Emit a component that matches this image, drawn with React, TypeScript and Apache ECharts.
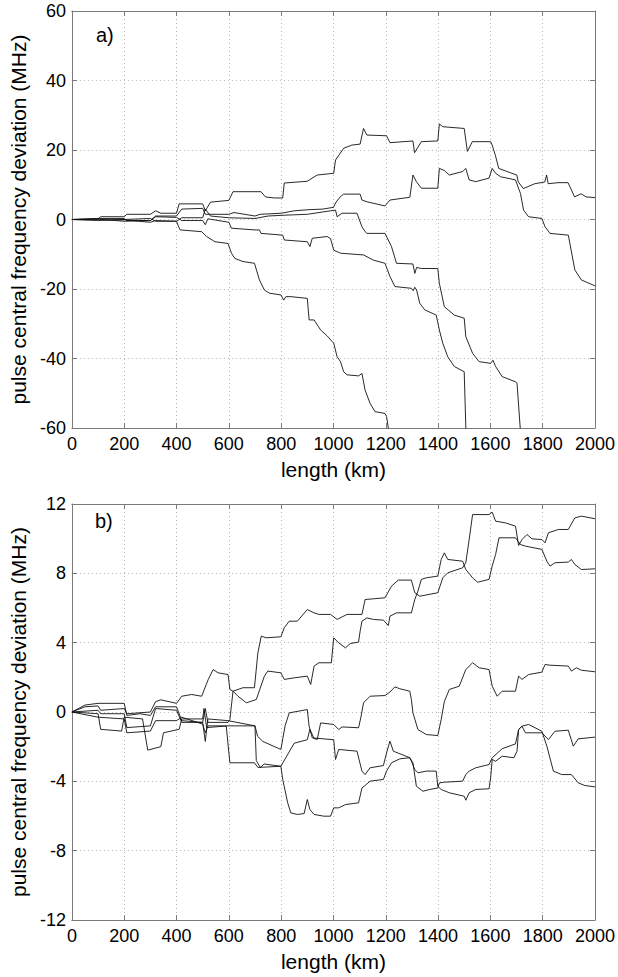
import React, { useEffect, useRef } from "react";
import * as echarts from "echarts";

const FONT = "'Liberation Sans', Arial, Helvetica, sans-serif";

// x ticks (km) and y ticks
const xMin = 0, xMax = 2000, xStep = 200;
const topYMin = -60, topYMax = 60, topYStep = 20;
const botYMin = -12, botYMax = 12, botYStep = 4;

const yTitle = "pulse central frequency deviation (MHz)";
const xTitle = "length (km)";
const panelLabels = ["a)", "b)"];

// ---- panel a) ----
const topA: number[][] = [[0,0],[100,0.2],[110,0.8],[200,0.8],[210,1.5],[300,1.5],[320,2.5],[340,1.8],[400,1.8],[410,4.5],[500,4.5],[510,2.5],[530,5],[600,5.5],[616,8],[723,8],[740,6.5],[774,6.2],[806,6.2],[812,10.5],[900,11],[938,12.8],[1001,13.3],[1008,17.1],[1039,20.5],[1070,21.4],[1102,21.7],[1115,26.2],[1128,24.3],[1203,24.1],[1216,22.1],[1304,22.6],[1310,19.2],[1336,22.4],[1399,22.6],[1405,27.5],[1418,26.7],[1500,26.2],[1512,19.6],[1531,22.4],[1601,22.4],[1607,21.4],[1619,18.5],[1632,14.7],[1682,13.3],[1701,12.8],[1707,10.8],[1726,8.9],[1770,10.3],[1808,10.8],[1815,12.8],[1821,10.3],[1859,10.6],[1897,10.6],[1922,6.5],[1947,7.4],[1966,6.5],[2000,6.3]];
const topB: number[][] = [[0,0],[100,0.3],[200,0.3],[210,-0.3],[300,-0.3],[320,1.0],[400,1.0],[420,3.0],[500,3.2],[510,1.5],[600,1.5],[620,2.0],[700,1.0],[720,1.5],[800,1.8],[850,2.5],[900,2.8],[960,3.0],[1000,3.5],[1010,5.0],[1027,6.6],[1039,7.3],[1102,7.3],[1109,5.6],[1128,5.1],[1197,3.9],[1216,5.6],[1292,6.4],[1304,12.8],[1317,10.9],[1336,9.0],[1399,9.0],[1405,14.7],[1424,14.1],[1443,12.8],[1494,13.8],[1506,14.7],[1519,11.4],[1544,10.9],[1595,11.9],[1607,14.7],[1620,13.3],[1639,12.3],[1696,11.4],[1715,7.5],[1727,2.7],[1746,0.8],[1797,0.3],[1809,-2.1],[1828,-4.0],[1898,-4.5],[1904,-6.9],[1923,-14.5],[1948,-17.4],[2000,-19.1]];
const topC: number[][] = [[0,0],[100,-0.2],[200,0.0],[300,0.3],[320,-0.5],[400,-0.5],[420,0.5],[500,0.5],[510,3.0],[530,1.0],[600,0.5],[700,0.3],[750,1.0],[800,1.2],[900,1.5],[989,2.5],[1008,2.7],[1014,0.8],[1033,1.8],[1090,1.8],[1109,-2.1],[1121,-3.5],[1128,-4.0],[1197,-4.0],[1222,-7.8],[1241,-12.6],[1304,-12.8],[1311,-15.5],[1318,-13.8],[1336,-14.1],[1399,-14.1],[1405,-18.4],[1424,-25.1],[1462,-27.5],[1500,-28.4],[1506,-33.7],[1532,-38.5],[1557,-40.9],[1601,-41.4],[1610,-40.5],[1620,-42.3],[1645,-45.2],[1696,-46.7],[1702,-47.1],[1716,-62]];
const topD: number[][] = [[0,0],[100,0.1],[200,-0.5],[300,-0.3],[320,0.8],[400,0.6],[420,-0.3],[500,-0.3],[510,-1.5],[520,0.2],[600,-0.8],[610,-2.5],[700,-3.0],[717,-3.0],[723,-4.0],[806,-4.5],[812,-5.9],[900,-6.4],[910,-7.8],[919,-5.4],[976,-4.9],[989,-5.5],[1001,-8.8],[1027,-9.7],[1115,-10.2],[1153,-11.7],[1197,-12.6],[1216,-16.4],[1235,-19.3],[1298,-19.8],[1305,-20.5],[1311,-19.5],[1318,-20.3],[1330,-24.1],[1349,-26.0],[1393,-27.5],[1405,-31.8],[1418,-35.6],[1437,-39.5],[1462,-42.3],[1500,-43.8],[1507,-62]];
const topE: number[][] = [[0,0],[100,-0.2],[200,-0.1],[300,-0.8],[320,-0.3],[400,-0.5],[408,-2.1],[414,-3.0],[496,-3.5],[515,-4.9],[547,-6.4],[597,-6.9],[610,-9.7],[623,-11.2],[654,-12.1],[698,-12.6],[717,-17.4],[736,-20.3],[755,-21.2],[799,-21.7],[810,-23.2],[818,-22.2],[837,-22.2],[900,-22.7],[907,-28.9],[926,-28.9],[951,-31.8],[976,-33.5],[1001,-35.6],[1014,-39.5],[1027,-40.9],[1039,-43.8],[1052,-44.7],[1096,-45.0],[1109,-44.3],[1121,-49.1],[1140,-52.9],[1159,-55.3],[1197,-55.8],[1203,-56.7],[1214,-62]];

// ---- panel b) ----
const botP: number[][] = [[0,0],[50,0.3],[100,0.35],[110,0.1],[200,0.2],[210,-0.1],[300,0.0],[320,0.6],[340,0.7],[400,0.5],[420,0.91],[458,1.01],[496,0.91],[521,1.87],[540,2.45],[559,2.26],[597,2.16],[604,1.3],[616,1.2],[654,1.4],[698,1.4],[711,3.41],[724,4.38],[742,4.28],[799,4.34],[812,4.86],[831,5.24],[862,5.24],[900,5.91],[926,5.72],[944,5.63],[989,5.63],[1014,5.34],[1052,5.63],[1109,5.63],[1121,6.49],[1153,6.53],[1197,6.59],[1222,7.26],[1248,7.61],[1298,7.61],[1311,6.88],[1330,6.68],[1399,6.88],[1418,7.74],[1437,8.03],[1494,8.32],[1506,8.61],[1519,9.95],[1532,11.39],[1595,11.39],[1607,11.53],[1620,11.01],[1658,10.91],[1696,10.72],[1708,9.61],[1721,9.95],[1740,10.24],[1759,9.99],[1797,9.95],[1809,9.76],[1822,10.34],[1860,10.53],[1898,10.53],[1923,11.2],[1948,11.3],[2000,11.15]];
const botQ: number[][] = [[0,0],[50,0.4],[100,0.5],[200,0.5],[210,-0.2],[260,-0.1],[300,-0.2],[320,0.3],[400,0.3],[420,-0.5],[500,-0.6],[510,0.2],[520,-0.6],[597,-0.6],[604,-0.43],[616,1.2],[635,0.91],[667,0.53],[705,0.72],[736,2.07],[749,2.36],[799,2.26],[812,1.88],[850,1.97],[900,2.07],[913,1.59],[926,2.65],[944,2.84],[992,2.84],[1001,4.28],[1020,3.99],[1046,3.70],[1064,3.95],[1096,4.03],[1102,4.66],[1109,5.24],[1128,5.43],[1153,5.34],[1191,5.30],[1210,4.99],[1216,5.53],[1241,5.72],[1298,5.72],[1311,6.49],[1323,6.97],[1336,7.65],[1355,7.74],[1399,7.84],[1412,8.80],[1424,9.18],[1437,8.80],[1494,8.70],[1506,8.22],[1532,7.74],[1551,7.49],[1595,7.65],[1607,8.42],[1620,9.09],[1633,10.05],[1696,10.05],[1715,9.66],[1734,9.57],[1797,9.38],[1816,8.70],[1828,8.42],[1847,8.61],[1898,8.65],[1910,8.80],[1923,8.51],[1948,8.22],[2000,8.26]];
const botR: number[][] = [[0,0],[100,0.1],[110,-0.1],[200,-0.1],[210,-0.9],[300,-0.8],[320,0.2],[400,0.1],[420,-0.6],[500,-0.6],[510,-1.7],[520,-0.4],[597,-0.5],[700,-0.8],[710,-1.4],[730,-1.7],[799,-2.16],[815,-0.8],[831,-0.05],[900,0.14],[907,-0.82],[919,-1.49],[938,-1.59],[951,-0.63],[1001,-0.72],[1020,-1.01],[1033,-0.86],[1096,-0.91],[1105,-0.3],[1115,0.53],[1140,0.91],[1197,0.95],[1216,1.15],[1235,1.45],[1254,1.34],[1292,1.2],[1298,0.72],[1304,-0.05],[1323,-1.01],[1355,-1.3],[1399,-1.36],[1412,-0.43],[1424,0.6],[1443,1.3],[1481,1.49],[1506,2.45],[1532,2.84],[1557,2.55],[1595,2.45],[1607,1.49],[1626,0.91],[1645,1.2],[1696,1.2],[1708,2.07],[1721,1.88],[1746,2.16],[1797,2.3],[1809,2.74],[1828,2.7],[1898,2.65],[1910,2.36],[1929,2.55],[1948,2.41],[2000,2.32]];
const botS: number[][] = [[0,0],[100,-0.1],[110,-1.0],[190,-1.1],[200,-0.3],[270,-0.4],[290,-2.2],[340,-2.0],[350,-1.2],[410,-1.0],[420,-0.4],[500,-0.4],[505,0.2],[515,-0.9],[597,-0.8],[700,-0.8],[705,-2.8],[720,-3.2],[735,-3.0],[799,-3.13],[850,-1.8],[900,-1.6],[910,-1.0],[925,-1.5],[1001,-1.6],[1008,-2.74],[1020,-2.16],[1090,-2.26],[1109,-3.41],[1121,-3.61],[1140,-3.22],[1191,-3.09],[1203,-2.36],[1216,-1.68],[1229,-2.26],[1292,-2.64],[1298,-2.84],[1311,-3.32],[1323,-3.51],[1355,-3.41],[1393,-3.41],[1399,-4.28],[1412,-4.47],[1443,-4.66],[1500,-4.86],[1506,-5.09],[1519,-4.66],[1544,-4.47],[1595,-4.43],[1601,-3.8],[1607,-2.74],[1620,-2.84],[1645,-2.55],[1690,-2.64],[1702,-2.26],[1708,-1.01],[1721,-0.82],[1734,-1.2],[1797,-1.2],[1822,-1.59],[1847,-1.11],[1898,-1.05],[1917,-1.97],[1936,-1.55],[2000,-1.45]];
const botT: number[][] = [[0,0],[100,-0.3],[200,-0.4],[210,-1.2],[300,-1.1],[320,-0.5],[400,-0.5],[420,-0.3],[500,-0.7],[510,-1.2],[520,-0.8],[590,-0.8],[604,-2.93],[698,-2.93],[711,-3.2],[799,-3.13],[806,-3.89],[825,-5.24],[837,-5.82],[862,-5.91],[888,-5.86],[900,-5.05],[910,-5.63],[926,-5.91],[963,-6.01],[989,-6.01],[1001,-5.53],[1020,-5.53],[1046,-5.34],[1096,-5.24],[1109,-4.38],[1121,-4.24],[1140,-3.99],[1191,-3.89],[1203,-3.41],[1222,-2.93],[1254,-2.7],[1292,-2.64],[1304,-2.93],[1317,-4.28],[1342,-4.57],[1368,-4.47],[1399,-4.38],[1405,-4.09],[1424,-4.05],[1494,-3.99],[1506,-3.61],[1519,-3.41],[1544,-3.22],[1595,-3.03],[1607,-2.64],[1645,-2.12],[1696,-1.84],[1708,-1.01],[1721,-0.82],[1746,-0.72],[1797,-1.11],[1816,-1.97],[1841,-3.41],[1873,-3.61],[1910,-3.61],[1936,-4.09],[1961,-4.24],[2000,-4.32]];

const topSeries = [topA, topB, topC, topD, topE];
const botSeries = [botP, botQ, botR, botS, botT];

const FRAME = "#7a7a7a";
const GRID = "#b4b4b4";
const plain = (v: number) => String(v);

function mkX(gridIndex: number, position: "bottom" | "top", main: boolean) {
  return {
    type: "value",
    gridIndex,
    position,
    min: xMin,
    max: xMax,
    interval: xStep,
    axisLine: { show: true, onZero: false, lineStyle: { color: FRAME, width: 1 } },
    axisTick: { show: true, inside: true, length: 5, lineStyle: { color: FRAME } },
    axisLabel: main
      ? { show: true, fontSize: 18, color: "#000", fontFamily: FONT, margin: 7, formatter: plain }
      : { show: false },
    splitLine: main
      ? { show: true, lineStyle: { type: [1, 3], color: GRID, width: 1 } }
      : { show: false },
    name: main ? xTitle : "",
    nameLocation: "middle",
    nameGap: 31,
    nameTextStyle: { fontSize: 21, color: "#000", fontFamily: FONT },
  };
}

function mkY(gridIndex: number, position: "left" | "right", main: boolean, min: number, max: number, step: number) {
  return {
    type: "value",
    gridIndex,
    position,
    min,
    max,
    interval: step,
    axisLine: { show: true, onZero: false, lineStyle: { color: FRAME, width: 1 } },
    axisTick: { show: true, inside: true, length: 5, lineStyle: { color: FRAME } },
    axisLabel: main
      ? { show: true, fontSize: 18, color: "#000", fontFamily: FONT, margin: 6, formatter: plain }
      : { show: false },
    splitLine: main
      ? { show: true, lineStyle: { type: [1, 3], color: GRID, width: 1 } }
      : { show: false },
    name: main ? yTitle : "",
    nameLocation: "middle",
    nameGap: 40,
    nameTextStyle: { fontSize: 21, color: "#000", fontFamily: FONT },
  };
}

export default function App() {
  const ref = useRef<HTMLDivElement>(null);
  useEffect(() => {
    if (!ref.current) return;
    const chart = echarts.init(ref.current, null, { renderer: "svg" });
    const mkSeries = (data: number[][], axis: number) => ({
      type: "line",
      data,
      xAxisIndex: axis,
      yAxisIndex: axis,
      showSymbol: false,
      symbol: "none",
      clip: true,
      silent: true,
      lineStyle: { color: "#111", width: 0.9 },
    });
    chart.setOption({
      animation: false,
      backgroundColor: "#fff",
      grid: [
        { left: 69, top: 11, width: 528, height: 417 },
        { left: 69, top: 504, width: 528, height: 416 },
      ],
      xAxis: [mkX(0, "bottom", true), mkX(0, "top", false), mkX(1, "bottom", true), mkX(1, "top", false)],
      yAxis: [
        mkY(0, "left", true, topYMin, topYMax, topYStep),
        mkY(0, "right", false, topYMin, topYMax, topYStep),
        mkY(1, "left", true, botYMin, botYMax, botYStep),
        mkY(1, "right", false, botYMin, botYMax, botYStep),
      ],
      graphic: [
        { type: "text", left: 96, top: 25, style: { text: panelLabels[0], fontSize: 20, fill: "#000", fontFamily: FONT } },
        { type: "text", left: 95, top: 511, style: { text: panelLabels[1], fontSize: 20, fill: "#000", fontFamily: FONT } },
      ],
      series: [
        ...topSeries.map((d) => mkSeries(d, 0)),
        ...botSeries.map((d) => mkSeries(d, 2)),
      ],
    });
    return () => chart.dispose();
  }, []);
  return (
    <div
      ref={ref}
      style={{ position: "fixed", left: 0, top: 0, width: 618, height: 977 }}
    />
  );
}
